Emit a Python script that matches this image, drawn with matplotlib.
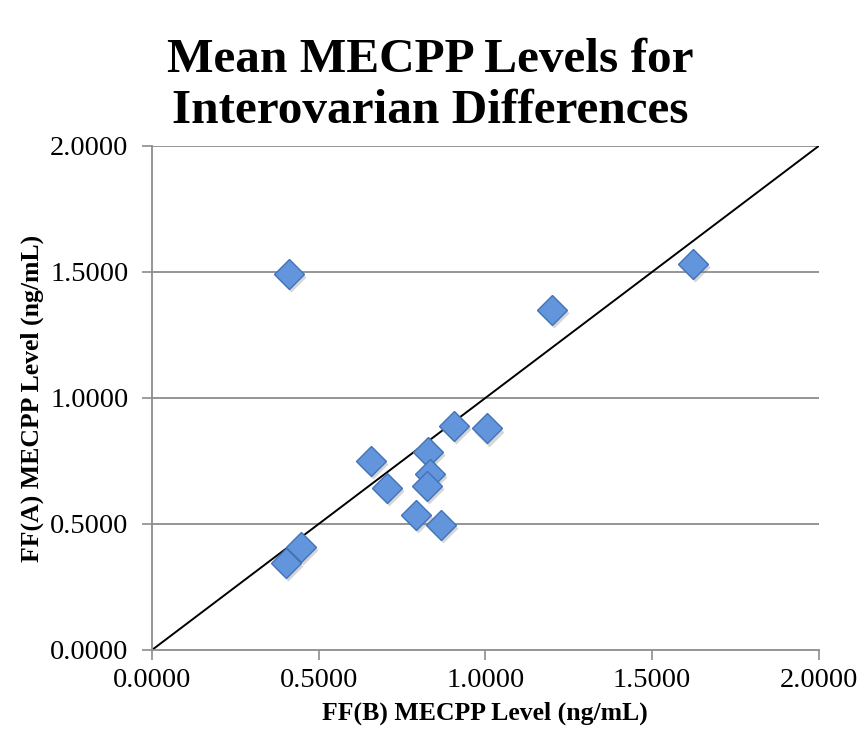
import matplotlib.pyplot as plt
import numpy as np

# FF(B) vs FF(A) mean MECPP per patient, ng/mL
ff_b = [0.412, 1.622, 1.201, 0.906, 1.006, 0.656, 0.829, 0.834, 0.824, 0.704, 0.792, 0.866, 0.447, 0.401]
ff_a = [1.492, 1.531, 1.349, 0.889, 0.880, 0.751, 0.785, 0.698, 0.652, 0.644, 0.536, 0.496, 0.410, 0.346]
ticks = [0.0, 0.5, 1.0, 1.5, 2.0]
tick_labels = ["%.4f" % t for t in ticks]

serif = ["Liberation Serif", "DejaVu Serif"]
grey = "#8c8c8c"

fig = plt.figure(figsize=(8.66, 7.51), dpi=100)
ax = fig.add_axes([0.1755, 0.1345, 0.7699, 0.6711])

for t in ticks[1:]:
    ax.axhline(t, color=grey, lw=1.3, zorder=1)

# y = x reference line
ax.plot([0, 2], [0, 2], color="black", lw=1.4, zorder=2)

# soft drop shadow under the diamonds
ax.plot(np.array(ff_b) + 0.006, np.array(ff_a) - 0.013, linestyle="none", marker="D",
        markersize=15.5, markerfacecolor="#7a7a7a", markeredgecolor="none", alpha=0.3, zorder=3)
ax.plot(ff_b, ff_a, linestyle="none", marker="D", markersize=15,
        markerfacecolor="#6395dc", markeredgecolor="#4272b8", markeredgewidth=1.0, zorder=4)

ax.set_xlim(0, 2)
ax.set_ylim(0, 2)
ax.set_xticks(ticks)
ax.set_yticks(ticks)
ax.set_xticklabels(tick_labels, family=serif, fontsize=20.5)
ax.set_yticklabels(tick_labels, family=serif, fontsize=20.5)
ax.tick_params(direction="out", length=7, width=1.2, color=grey)
ax.tick_params(axis="y", pad=10)
ax.tick_params(axis="x", pad=6)

for side in ["top", "right"]:
    ax.spines[side].set_visible(False)
for side in ["left", "bottom"]:
    ax.spines[side].set_color(grey)
    ax.spines[side].set_linewidth(1.3)

ax.set_xlabel("FF(B) MECPP Level (ng/mL)", family=serif, fontsize=18.5, fontweight="bold", labelpad=6)
ax.set_ylabel("FF(A) MECPP Level (ng/mL)", family=serif, fontsize=18.5, fontweight="bold", labelpad=4)

fig.text(0.497, 0.886, "Mean MECPP Levels for\nInterovarian Differences", ha="center", va="center",
         family=serif, fontsize=35.5, fontweight="bold", linespacing=1.22)

fig.savefig("out.png", dpi=100)
